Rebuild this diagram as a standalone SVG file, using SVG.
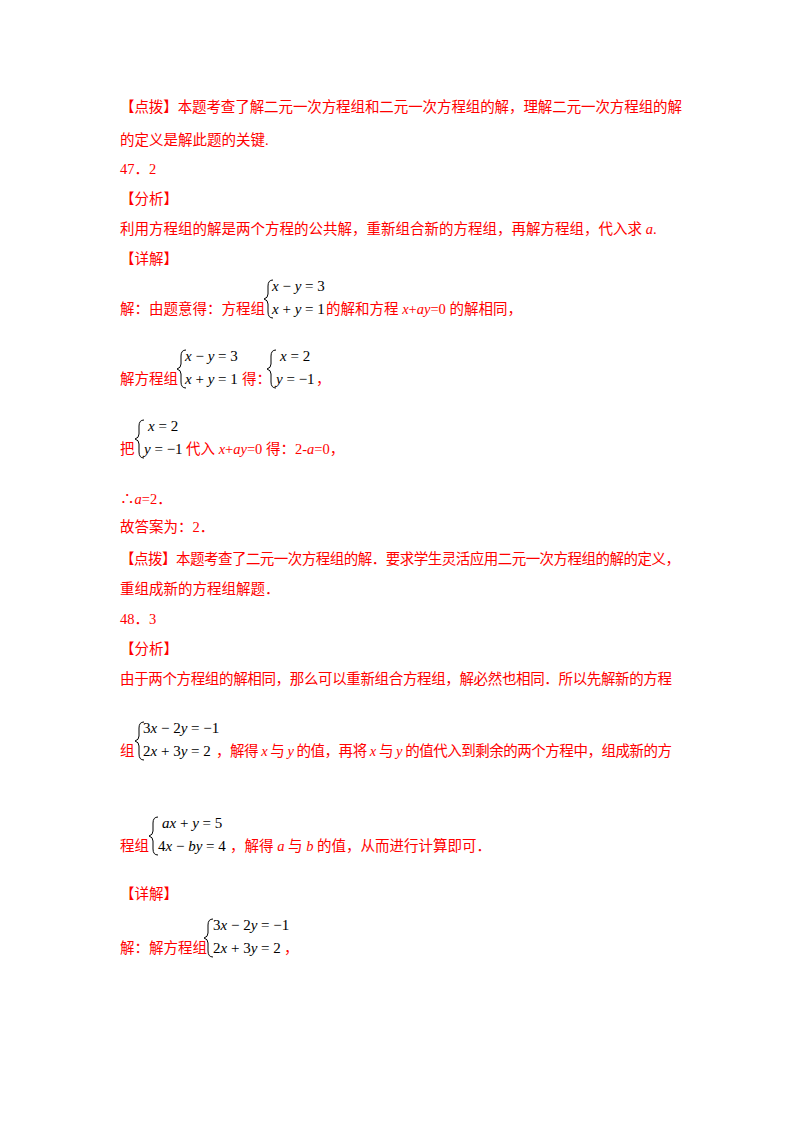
<svg xmlns="http://www.w3.org/2000/svg" width="800" height="1132" viewBox="0 0 800 1132">
<style>
.t{font-family:"Liberation Serif","Noto Sans CJK SC",serif;font-size:14.5px;fill:#ff0000}
.m{font-family:"Liberation Serif",serif;font-size:15px;fill:#000}
.i{font-style:italic}
.b{fill:none;stroke:#000;stroke-width:1}
</style>
<rect width="800" height="1132" fill="#fff"/>
<text class="t" x="120" y="112" textLength="562">【点拨】本题考查了解二元一次方程组和二元一次方程组的解，理解二元一次方程组的解</text>
<text class="t" x="120" y="145">的定义是解此题的关键.</text>
<text class="t" x="120" y="174">47．2</text>
<text class="t" x="120" y="204">【分析】</text>
<text class="t" x="120" y="234">利用方程组的解是两个方程的公共解，重新组合新的方程组，再解方程组，代入求 <tspan class="i">a</tspan>.</text>
<text class="t" x="120" y="264">【详解】</text>
<text class="t" x="120" y="314">解：由题意得：方程组</text>
<path class="b" d="M273 280 Q268 280 268 286 L268 294 Q268 298 264 299 Q268 300 268 304 L268 312 Q268 318 273 318"/>
<text class="m" x="272" y="291"><tspan class="i">x</tspan> − <tspan class="i">y</tspan> = 3</text>
<text class="m" x="272" y="314"><tspan class="i">x</tspan> + <tspan class="i">y</tspan> = 1</text>
<text class="t" x="326" y="314">的解和方程 <tspan class="i">x</tspan>+<tspan class="i">ay</tspan>=0 的解相同，</text>
<text class="t" x="120" y="384">解方程组</text>
<path class="b" d="M186 350 Q181 350 181 356 L181 364 Q181 368 177 369 Q181 370 181 374 L181 382 Q181 388 186 388"/>
<text class="m" x="185" y="361"><tspan class="i">x</tspan> − <tspan class="i">y</tspan> = 3</text>
<text class="m" x="185" y="384"><tspan class="i">x</tspan> + <tspan class="i">y</tspan> = 1</text>
<text class="t" x="242" y="384">得：</text>
<path class="b" d="M276 350 Q271 350 271 356 L271 364 Q271 368 267 369 Q271 370 271 374 L271 382 Q271 388 276 388"/>
<text class="m" x="280" y="361"><tspan class="i">x</tspan> = 2</text>
<text class="m" x="276" y="384"><tspan class="i">y</tspan> = −1</text>
<text class="t" x="316" y="384">，</text>
<text class="t" x="120" y="454">把</text>
<path class="b" d="M144 420 Q139 420 139 426 L139 434 Q139 438 135 439 Q139 440 139 444 L139 452 Q139 458 144 458"/>
<text class="m" x="148" y="431"><tspan class="i">x</tspan> = 2</text>
<text class="m" x="144" y="454"><tspan class="i">y</tspan> = −1</text>
<text class="t" x="186" y="454">代入 <tspan class="i">x</tspan>+<tspan class="i">ay</tspan>=0 得：2-<tspan class="i">a</tspan>=0，</text>
<text class="t" x="120" y="504">∴<tspan class="i">a</tspan>=2．</text>
<text class="t" x="120" y="532">故答案为：2．</text>
<text class="t" x="120" y="564" textLength="560">【点拨】本题考查了二元一次方程组的解．要求学生灵活应用二元一次方程组的解的定义，</text>
<text class="t" x="120" y="594">重组成新的方程组解题．</text>
<text class="t" x="120" y="624">48．3</text>
<text class="t" x="120" y="654">【分析】</text>
<text class="t" x="120" y="684" textLength="552">由于两个方程组的解相同，那么可以重新组合方程组，解必然也相同．所以先解新的方程</text>
<text class="t" x="120" y="756">组</text>
<path class="b" d="M144 722 Q139 722 139 728 L139 736 Q139 740 135 741 Q139 742 139 746 L139 754 Q139 760 144 760"/>
<text class="m" x="143" y="733">3<tspan class="i">x</tspan> − 2<tspan class="i">y</tspan> = −1</text>
<text class="m" x="143" y="756">2<tspan class="i">x</tspan> + 3<tspan class="i">y</tspan> = 2</text>
<text class="t" x="216" y="756" textLength="456">，解得 <tspan class="i">x</tspan> 与 <tspan class="i">y</tspan> 的值，再将 <tspan class="i">x</tspan> 与 <tspan class="i">y</tspan> 的值代入到剩余的两个方程中，组成新的方</text>
<text class="t" x="120" y="851">程组</text>
<path class="b" d="M158 817 Q153 817 153 823 L153 831 Q153 835 149 836 Q153 837 153 841 L153 849 Q153 855 158 855"/>
<text class="m" x="162" y="828"><tspan class="i">ax</tspan> + <tspan class="i">y</tspan> = 5</text>
<text class="m" x="158" y="851">4<tspan class="i">x</tspan> − <tspan class="i">by</tspan> = 4</text>
<text class="t" x="230" y="851">，解得 <tspan class="i">a</tspan> 与 <tspan class="i">b</tspan> 的值，从而进行计算即可．</text>
<text class="t" x="120" y="899">【详解】</text>
<text class="t" x="120" y="953">解：解方程组</text>
<path class="b" d="M213 919 Q208 919 208 925 L208 933 Q208 937 204 938 Q208 939 208 943 L208 951 Q208 957 213 957"/>
<text class="m" x="213" y="930">3<tspan class="i">x</tspan> − 2<tspan class="i">y</tspan> = −1</text>
<text class="m" x="213" y="953">2<tspan class="i">x</tspan> + 3<tspan class="i">y</tspan> = 2</text>
<text class="t" x="284" y="953">，</text>
</svg>
